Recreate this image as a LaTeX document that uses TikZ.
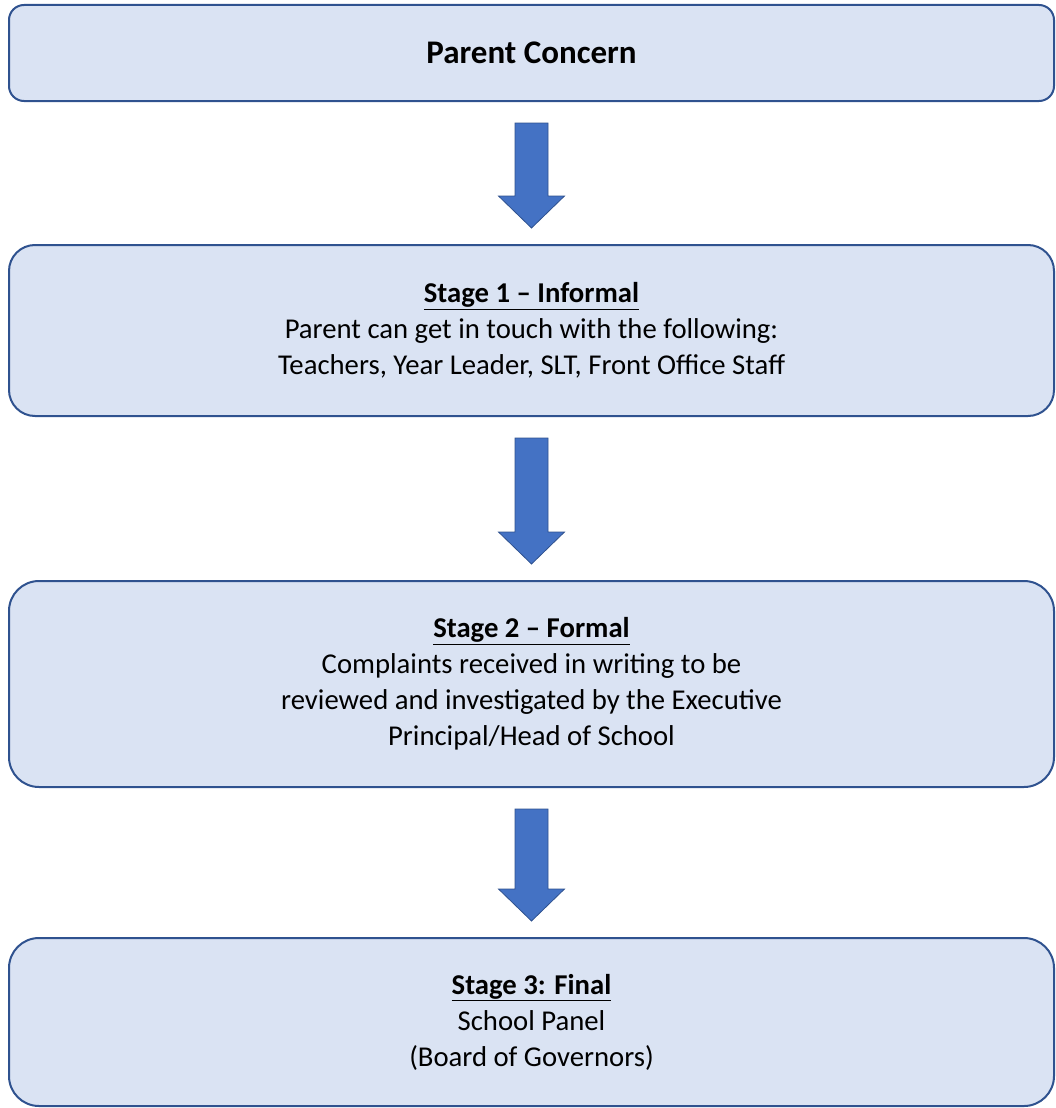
\documentclass[tikz,border=0pt]{standalone}
\usepackage{fontspec}
\setmainfont{Carlito}
\usetikzlibrary{calc}
\definecolor{stagefill}{HTML}{DAE3F3}
\definecolor{stageline}{HTML}{2F528F}
\definecolor{arrowblue}{HTML}{4472C4}

% block arrow from the bottom of one box to the top of the next
\newcommand{\stagearrow}[2]{%
\path[fill=arrowblue,draw=stageline,line width=0.8pt] let \p1=(#1.south), \p2=(#2.north) in
  (\x1-16.5pt,\y1-21pt) -- (\x1+16.5pt,\y1-21pt) -- (\x1+16.5pt,\y2+48pt)
  -- (\x1+33pt,\y2+48pt) -- (\x1,\y2+16pt) -- (\x1-33pt,\y2+48pt)
  -- (\x1-16.5pt,\y2+48pt) -- cycle;}

\begin{document}
\begin{tikzpicture}[x=1pt,y=-1pt,
  stagebox/.style={draw=stageline,fill=stagefill,line width=2pt,
    minimum width=1045pt,inner sep=0pt,align=center,
    font=\fontsize{28.7}{36}\selectfont}]
\useasboundingbox (0,0) rectangle (1056,1108);
%
\node[stagebox,minimum height=96pt,rounded corners=15pt,
  font=\fontsize{33}{40}\selectfont] (concern) at (531.5,53)
  {\textbf{Parent Concern}};
%
\node[stagebox,minimum height=171pt,rounded corners=26pt] (informal) at (531.5,330.5)
  {\underline{\textbf{Stage 1 -- Informal}}\\
   Parent can get in touch with the following:\\
   Teachers, Year Leader, SLT, Front Office Staff};
%
\node[stagebox,minimum height=206pt,rounded corners=30pt] (formal) at (531.5,684)
  {\underline{\textbf{Stage 2 -- Formal}}\\
   Complaints received in writing to be\\
   reviewed and investigated by the Executive\\
   Principal/Head of School};
%
\node[stagebox,minimum height=168pt,rounded corners=30pt] (final) at (531.5,1022)
  {\underline{\textbf{Stage 3: Final}}\\
   School Panel\\
   (Board of Governors)};
%
\stagearrow{concern}{informal}
\stagearrow{informal}{formal}
\stagearrow{formal}{final}
\end{tikzpicture}
\end{document}
